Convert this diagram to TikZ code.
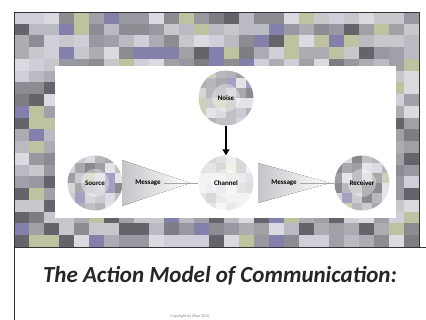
\documentclass[tikz,border=0pt]{standalone}
\usepackage{fontspec}
\setmainfont{Carlito}
\usepackage{tikz}
\usetikzlibrary{arrows.meta, positioning}

\definecolor{tile1}{RGB}{200,200,204}
\definecolor{tile2}{RGB}{125,125,132}
\definecolor{tile3}{RGB}{172,172,178}
\definecolor{tile4}{RGB}{132,128,172}
\definecolor{tile5}{RGB}{190,194,160}
\definecolor{tile6}{RGB}{218,218,224}
\definecolor{tile7}{RGB}{152,152,160}
\definecolor{tile8}{RGB}{100,100,106}
\definecolor{tile9}{RGB}{186,186,194}
\definecolor{tile10}{RGB}{208,206,216}
\definecolor{tile11}{RGB}{160,160,166}
\definecolor{tile12}{RGB}{140,140,146}

\tikzset{
  ball/.style={shape=circle, minimum size=55pt, inner sep=0pt,
    font=\fontsize{7}{8}\selectfont\bfseries,
    path picture={
      \foreach \a in {-3,...,2} \foreach \b in {-3,...,2} {
        \pgfmathrandominteger{\c}{1}{12}
        \fill[tile\c!#1] ([shift={(\a*10pt,\b*10pt)}]path picture bounding box.center) rectangle ++(10pt,10pt);
      }
      \fill[white, opacity=0.35] (path picture bounding box.center) circle (14pt);
    }},
  ball/.default=75,
  funnel/.style={left color=tile3!70, right color=white, draw=none},
  tag/.style={font=\fontsize{7}{8}\selectfont\bfseries},
}

\begin{document}
\begin{tikzpicture}[x=1pt, y=-1pt]
\useasboundingbox (0,0) rectangle (426,320);
\pgfmathsetseed{17}
% mosaic frame
\foreach \i in {0,...,26}
  \foreach \j in {0,...,19} {
    \pgfmathrandominteger{\c}{1}{12}
    \fill[tile\c] (14+\i*15,12+\j*11.75) rectangle ++(15,11.75);
  }
\draw[black!80] (14,12) rectangle (419,247);
\draw[black!80] (14,247) -- (426,247);
\draw[black!80] (14,247) -- (14,320);
\fill[white] (55,66) rectangle (396,218);

\node[ball] (noise) at (226,98) {Noise};
\node[ball] (src) at (95,183) {Source};
\node[ball=25] (chan) at (226,183) {Channel};
\node[ball] (recv) at (362,183) {Receiver};

\fill[funnel] (122,160) -- (122,206) -- (190,183) -- cycle;
\fill[funnel] (258,163) -- (258,203) -- (330,183) -- cycle;
\node[tag] (msg1) at (148,183) {Message};
\node[tag] (msg2) at (284,183) {Message};

\draw[-{Triangle[length=6pt,width=7pt]}, line width=2pt] (noise) -- (chan);
\draw[gray!70] (msg1.east) -- (chan);
\draw[gray!70] (msg2.east) -- (recv);

\node[font=\fontsize{23}{27}\selectfont\bfseries\itshape, text=black!85] (title) at (220,276) {The Action Model of Communication:};
\node[font=\fontsize{4}{5}\selectfont, text=gray] (note) at (190,316) {Copyright by Allan 2010};
\end{tikzpicture}
\end{document}
